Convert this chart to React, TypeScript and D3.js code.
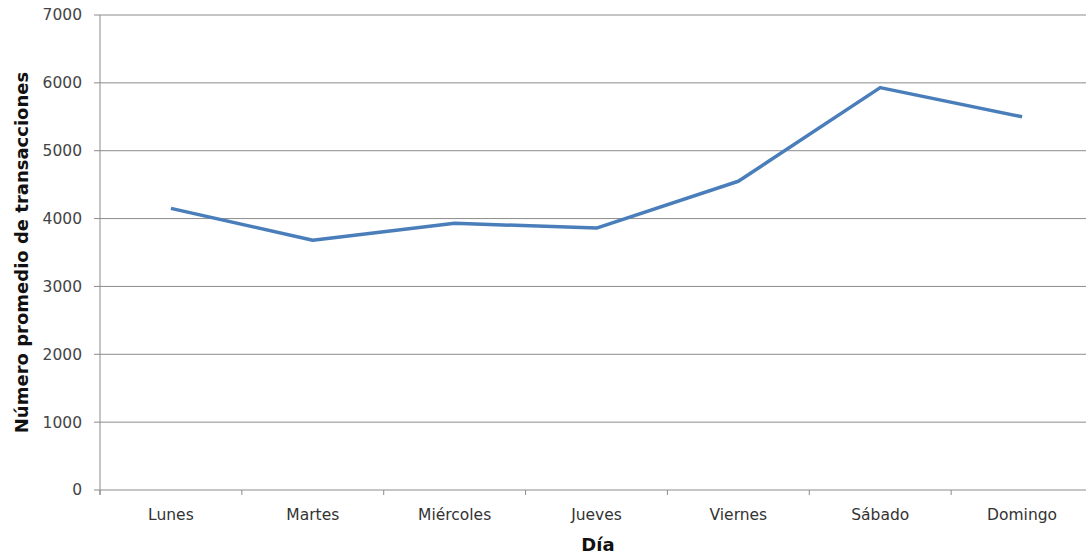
import React from "react";
import * as d3 from "d3";

const days = ["Lunes", "Martes", "Miércoles", "Jueves", "Viernes", "Sábado", "Domingo"];
const avgTransactions = [4150, 3680, 3930, 3860, 4550, 5930, 5500];
const yTicks = [0, 1000, 2000, 3000, 4000, 5000, 6000, 7000];

const W = 1086;
const H = 557;
const left = 100;
const right = 1093;
const top = 15;
const bottom = 490;
const font = "'DejaVu Sans', sans-serif";

export default function App() {
  const x = d3.scaleBand<string>().domain(days).range([left, right]).padding(0);
  const y = d3.scaleLinear().domain([0, 7000]).range([bottom, top]);
  const line = d3
    .line<number>()
    .x((_, i) => (x(days[i]) as number) + x.bandwidth() / 2)
    .y((d) => y(d));

  const tickXs = days.map((d) => x(d) as number).concat([right]);

  return (
    <svg
      width={W}
      height={H}
      style={{ position: "absolute", left: 0, top: 0, background: "#fff" }}
    >
      {yTicks.map((t) => (
        <g key={t}>
          <line x1={left - 6} x2={right} y1={y(t)} y2={y(t)} stroke="#8c8c8c" strokeWidth={1} />
          <text
            x={left - 18}
            y={y(t)}
            dy="0.35em"
            textAnchor="end"
            fontFamily={font}
            fontSize={15.5}
            fill="#444"
          >
            {t}
          </text>
        </g>
      ))}
      <line x1={left} x2={left} y1={top} y2={bottom + 5} stroke="#8c8c8c" strokeWidth={1} />
      {tickXs.map((tx, i) => (
        <line key={i} x1={tx} x2={tx} y1={bottom} y2={bottom + 5} stroke="#8c8c8c" strokeWidth={1} />
      ))}
      {days.map((d) => (
        <text
          key={d}
          x={(x(d) as number) + x.bandwidth() / 2}
          y={520}
          textAnchor="middle"
          fontFamily={font}
          fontSize={15.5}
          fill="#333"
        >
          {d}
        </text>
      ))}
      <path
        d={line(avgTransactions) || ""}
        fill="none"
        stroke="#4a7ebb"
        strokeWidth={3.5}
        strokeLinejoin="round"
      />
      <text
        x={598}
        y={551}
        textAnchor="middle"
        fontFamily={font}
        fontSize={18}
        fontWeight="bold"
        fill="#111"
      >
        Día
      </text>
      <text
        transform={`translate(28, ${(top + bottom) / 2}) rotate(-90)`}
        textAnchor="middle"
        fontFamily={font}
        fontSize={18}
        fontWeight="bold"
        fill="#111"
      >
        Número promedio de transacciones
      </text>
    </svg>
  );
}
